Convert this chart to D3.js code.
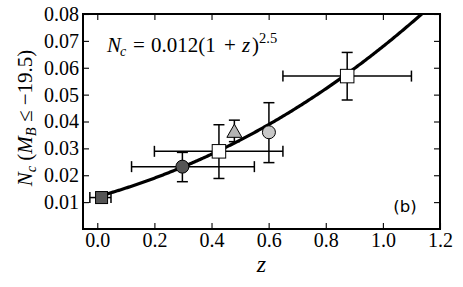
<!DOCTYPE html>
<html><head><meta charset="utf-8">
<script src="https://cdn.jsdelivr.net/npm/d3@7"></script>
<style>body{margin:0;background:#fff}svg{display:block}</style>
</head><body>
<svg id="c" width="463" height="287"></svg>
<script>
const xTicks = [0.0, 0.2, 0.4, 0.6, 0.8, 1.0, 1.2];
const yTicks = [0.01, 0.02, 0.03, 0.04, 0.05, 0.06, 0.07, 0.08];
const xTickLabels = ["0.0","0.2","0.4","0.6","0.8","1.0","1.2"];
const yTickLabels = ["0.01","0.02","0.03","0.04","0.05","0.06","0.07","0.08"];
// points: z, Nc, errors, marker, fill
const pz    = [0.015, 0.298, 0.426, 0.48, 0.601, 0.875];
const pn    = [0.0117, 0.0232, 0.0289, 0.0362, 0.0360, 0.0569];
const pzErrLo = [0.041, 0.178, 0.226, 0, 0, 0.225];
const pzErrHi = [0.033, 0.252, 0.224, 0, 0, 0.225];
const pnErrLo = [0.0007, 0.0056, 0.0101, 0.0037, 0.0113, 0.0089];
const pnErrHi = [0.0007, 0.0053, 0.0099, 0.0043, 0.0110, 0.0088];
const markers = ["square","circle","square","triangle","circle","square"];
const fills   = ["#555555","#555555","#ffffff","#b4b4b4","#c8c8c8","#ffffff"];
const fitA = 0.012, fitP = 2.5;

const SERIF = '"Liberation Serif"';
const svg = d3.select("#c");
const L = 83, R = 440, T = 14, B = 229;
const x = d3.scaleLinear().domain([-0.05, 1.2]).range([L, R]);
const y = d3.scaleLinear().domain([0, 0.08]).range([B, T]);

const g = svg.append("g");
const tl = 6;
g.append("g").attr("transform",`translate(0,${B})`)
  .call(d3.axisBottom(x).tickValues(xTicks).tickSize(-tl).tickPadding(4).tickFormat((d,i)=>xTickLabels[i]))
  .call(s=>s.select(".domain").remove());
g.append("g").attr("transform",`translate(0,${T})`)
  .call(d3.axisTop(x).tickValues(xTicks).tickSize(-tl).tickFormat(""))
  .call(s=>s.select(".domain").remove());
g.append("g").attr("transform",`translate(${L},0)`)
  .call(d3.axisLeft(y).tickValues(yTicks).tickSize(-tl).tickPadding(4).tickFormat((d,i)=>yTickLabels[i]))
  .call(s=>s.select(".domain").remove());
g.append("g").attr("transform",`translate(${R},0)`)
  .call(d3.axisRight(y).tickValues(yTicks).tickSize(-tl).tickFormat(""))
  .call(s=>s.select(".domain").remove());
g.selectAll(".tick line").attr("stroke","#000").attr("stroke-width",1.1);
g.selectAll(".tick text").style("font-family",SERIF).style("font-size","20px").attr("fill","#000");

svg.append("clipPath").attr("id","clip").append("rect").attr("x",L).attr("y",T).attr("width",R-L).attr("height",B-T);

const zs = d3.range(0, 1.2001, 0.005);
svg.append("path").attr("clip-path","url(#clip)")
  .attr("d", d3.line().x(d=>x(d)).y(d=>y(fitA*Math.pow(1+d,fitP)))(zs))
  .attr("fill","none").attr("stroke","#000").attr("stroke-width",3.2);

const eb = svg.append("g").attr("stroke","#000").attr("stroke-width",1.5).attr("fill","none");
const cap = 5.5;
pz.forEach((z,i)=>{
  const cx = x(z), cy = y(pn[i]);
  if (pzErrLo[i] > 0 || pzErrHi[i] > 0) {
    const x0 = x(z - pzErrLo[i]), x1 = x(z + pzErrHi[i]);
    eb.append("line").attr("x1",x0).attr("x2",x1).attr("y1",cy).attr("y2",cy);
    eb.append("line").attr("x1",x0).attr("x2",x0).attr("y1",cy-cap).attr("y2",cy+cap);
    eb.append("line").attr("x1",x1).attr("x2",x1).attr("y1",cy-cap).attr("y2",cy+cap);
  }
  const y0 = y(pn[i]-pnErrLo[i]), y1 = y(pn[i]+pnErrHi[i]);
  eb.append("line").attr("x1",cx).attr("x2",cx).attr("y1",y0).attr("y2",y1);
  eb.append("line").attr("x1",cx-cap).attr("x2",cx+cap).attr("y1",y0).attr("y2",y0);
  eb.append("line").attr("x1",cx-cap).attr("x2",cx+cap).attr("y1",y1).attr("y2",y1);
});

const mg = svg.append("g");
pz.forEach((z,i)=>{
  const cx = x(z), cy = y(pn[i]), m = markers[i];
  let sz = (m==="square" && i===0) ? 12 : 13.5;
  if (m==="square") {
    mg.append("rect").attr("x",cx-sz/2).attr("y",cy-sz/2).attr("width",sz).attr("height",sz)
      .attr("fill",fills[i]).attr("stroke","#000").attr("stroke-width",1);
  } else if (m==="circle") {
    mg.append("circle").attr("cx",cx).attr("cy",cy).attr("r",6.5)
      .attr("fill",fills[i]).attr("stroke","#000").attr("stroke-width",1);
  } else {
    const h = 7.5;
    mg.append("path").attr("d",`M${cx},${cy-h}L${cx+h},${cy+h*0.75}L${cx-h},${cy+h*0.75}Z`)
      .attr("fill",fills[i]).attr("stroke","#000").attr("stroke-width",1);
  }
});

svg.append("rect").attr("x",L).attr("y",T).attr("width",R-L).attr("height",B-T)
  .attr("fill","none").attr("stroke","#000").attr("stroke-width",2);

// formula, TeX-like spacing
const fy = 52;
const ft = svg.append("text").attr("y",fy).style("font-family",SERIF).style("font-size","21px").attr("fill","#000");
ft.append("tspan").attr("x",107).style("font-style","italic").text("N");
ft.append("tspan").attr("x",120).attr("y",fy+4).style("font-style","italic").style("font-size","14px").text("c");
ft.append("tspan").attr("x",133).attr("y",fy).text("=");
ft.append("tspan").attr("x",151).text("0.012(1");
ft.append("tspan").attr("x",224).text("+");
ft.append("tspan").attr("x",242).style("font-style","italic").text("z");
ft.append("tspan").attr("x",252).text(")");
ft.append("tspan").attr("x",259).attr("y",fy-9).style("font-size","14.5px").text("2.5");

svg.append("text").attr("x",405).attr("y",212).attr("text-anchor","middle")
  .style("font-family",'"DejaVu Sans"').style("font-size","16.5px").attr("fill","#000").text("(b)");

svg.append("text").attr("x",(L+R)/2).attr("y",272).attr("text-anchor","middle")
  .style("font-family",SERIF).style("font-style","italic").style("font-size","24px").text("z");

const yl = svg.append("text").attr("transform",`translate(32,118) rotate(-90)`).attr("text-anchor","middle")
  .style("font-family",SERIF).style("font-size","21px").attr("fill","#000");
yl.append("tspan").style("font-style","italic").text("N");
yl.append("tspan").style("font-style","italic").style("font-size","14.5px").attr("dy",4).text("c");
yl.append("tspan").attr("dy",-4).text(" (");
yl.append("tspan").style("font-style","italic").text("M");
yl.append("tspan").style("font-style","italic").style("font-size","14.5px").attr("dy",4).text("B");
yl.append("tspan").attr("dy",-4).text(" ≤ −19.5)");
</script>
</body></html>
